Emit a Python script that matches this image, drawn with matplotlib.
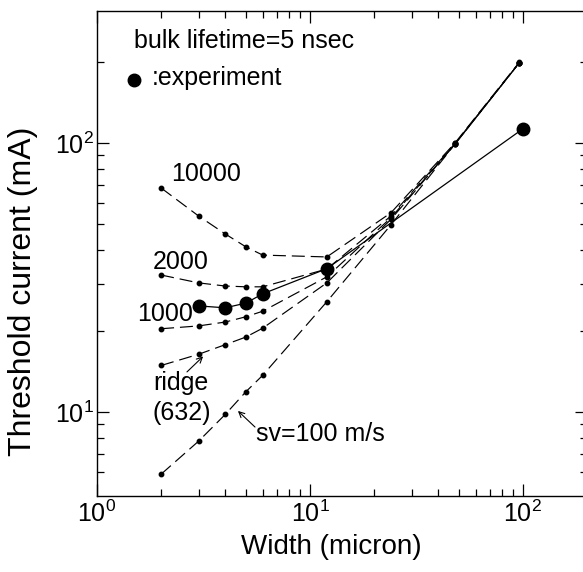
import numpy as np
import matplotlib
matplotlib.use('Agg')
import matplotlib.pyplot as plt
from matplotlib.ticker import FixedLocator, NullFormatter, LogFormatterMathtext

plt.rcParams['font.family'] = ['Liberation Sans', 'DejaVu Sans']
plt.rcParams['mathtext.fontset'] = 'custom'
plt.rcParams['mathtext.rm'] = 'Liberation Sans'

# simulated threshold current vs stripe width, one list per surface velocity
width_sim = [2, 3, 4, 5, 6, 12, 24, 48, 96]
sim_10000 = [68.0, 53.5, 45.9, 41.1, 38.3, 37.7, 55.0, 100.0, 199.0]
sim_2000 = [32.3, 30.2, 29.4, 29.2, 29.2, 34.0, 53.5, 99.5, 198.0]
sim_1000 = [20.4, 20.9, 21.6, 22.6, 23.7, 31.8, 52.7, 99.0, 198.0]
sim_ridge = [14.9, 16.4, 17.8, 19.0, 20.5, 30.2, 52.0, 99.0, 198.0]
sim_100 = [5.88, 7.8, 9.8, 11.9, 13.7, 25.7, 49.6, 99.0, 198.0]

# measured
width_exp = [3, 4, 5, 6, 12, 100]
current_exp = [24.8, 24.4, 25.4, 27.5, 34.1, 112.8]

fig = plt.figure(figsize=(5.83, 5.72), dpi=100)
ax = fig.add_axes([0.1664, 0.1329, 0.8405, 0.8479])

dash = (0, (11, 5))
for ys in [sim_10000, sim_2000, sim_1000, sim_ridge, sim_100]:
    ax.plot(width_sim, ys, color='black', lw=0.85, ls=dash,
            marker='o', ms=3.2, clip_on=False)

ax.plot(width_exp, current_exp, color='black', lw=0.9, ls='-',
        marker='o', ms=9, clip_on=False)

ax.set_xscale('log')
ax.set_yscale('log')
ax.set_xlim(1, 200)
ax.set_ylim(4.88, 309)

ax.xaxis.set_major_locator(FixedLocator([1, 10, 100]))
ax.xaxis.set_major_formatter(LogFormatterMathtext())
ax.xaxis.set_minor_locator(FixedLocator([2, 3, 4, 5, 6, 7, 8, 9,
                                         20, 30, 40, 50, 60, 70, 80, 90]))
ax.xaxis.set_minor_formatter(NullFormatter())
ax.yaxis.set_major_locator(FixedLocator([10, 100]))
ax.yaxis.set_major_formatter(LogFormatterMathtext())
ax.yaxis.set_minor_locator(FixedLocator([6, 7, 8, 9, 20, 30, 40, 50,
                                         60, 70, 80, 90, 200]))
ax.yaxis.set_minor_formatter(NullFormatter())

ax.tick_params(which='both', direction='in', top=True, right=True,
               width=0.9, labelsize=18)
ax.tick_params(which='major', length=8.6)
ax.tick_params(which='minor', length=5)
ax.tick_params(axis='y', pad=2)
for s in ax.spines.values():
    s.set_linewidth(1.0)

ax.set_xlabel('Width (micron)', fontsize=20)
ax.xaxis.set_label_coords(0.478, -0.078, transform=ax.transAxes)
ax.set_ylabel('Threshold current (mA)', fontsize=23)
ax.yaxis.set_label_coords(-0.12, 0.423, transform=ax.transAxes)

fs = 18
ax.text(0.0755, 0.938, 'bulk lifetime=5 nsec', transform=ax.transAxes,
        fontsize=fs, va='center', ha='left')
ax.plot([0.0755], [0.858], 'o', color='black', ms=9, transform=ax.transAxes)
ax.text(0.112, 0.862, ':experiment', transform=ax.transAxes,
        fontsize=fs, va='center', ha='left')

ax.text(2.22, 76.7, '10000', fontsize=fs, va='center', ha='left')
ax.text(1.83, 36.1, '2000', fontsize=fs, va='center', ha='left')
ax.text(1.54, 23.1, '1000', fontsize=fs, va='center', ha='left')
ax.text(1.83, 12.8, 'ridge', fontsize=fs, va='center', ha='left')
ax.text(1.83, 9.9, '(632)', fontsize=fs, va='center', ha='left')
ax.text(5.58, 8.28, 'sv=100 m/s', fontsize=fs, va='center', ha='left')

ax.annotate('', xy=(3.15, 16.1), xytext=(2.645, 14.1),
            arrowprops=dict(arrowstyle='->', lw=0.8, color='black',
                            shrinkA=0, shrinkB=0))
ax.annotate('', xy=(4.59, 10.1), xytext=(5.52, 8.8),
            arrowprops=dict(arrowstyle='->', lw=0.8, color='black',
                            shrinkA=0, shrinkB=0))

fig.savefig('out.png', dpi=100)
